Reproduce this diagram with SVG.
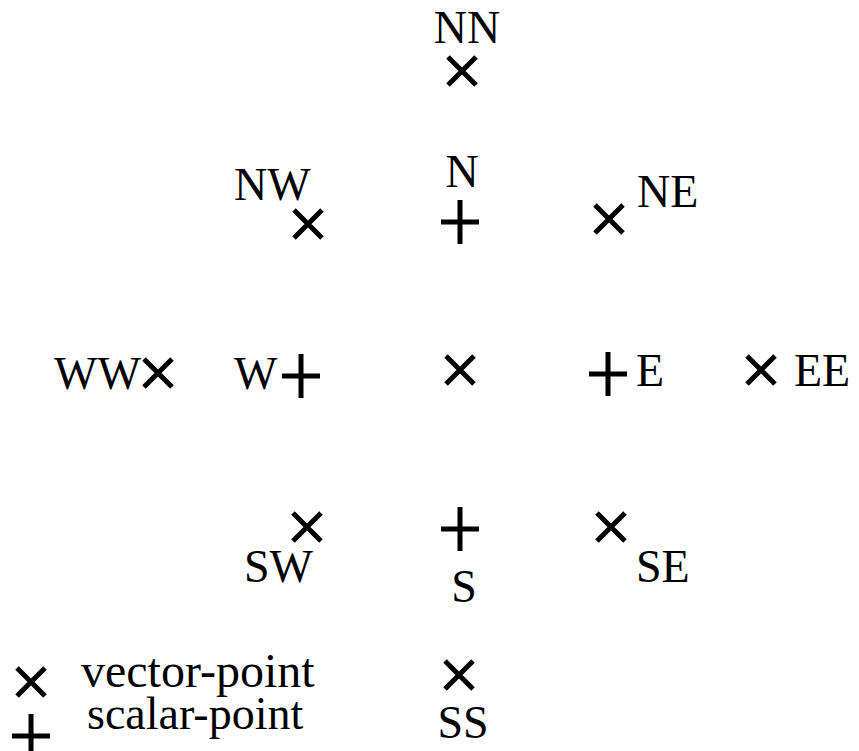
<svg xmlns="http://www.w3.org/2000/svg" xmlns:xlink="http://www.w3.org/1999/xlink" width="859" height="751" viewBox="0 0 859 751">
<style>
.lbl{font-family:"Liberation Serif","Times New Roman",serif;font-size:46px;fill:#000}
.mk{stroke:#000;stroke-width:5;fill:none}
</style>
<defs>
<path id="vx" class="mk" d="M-14,-14 L14,14 M-14,14 L14,-14"/>
<path id="sp" class="mk" d="M-19,0 L19,0 M0,-22 L0,22"/>
</defs>
<rect width="859" height="751" fill="#fff"/>
<g id="NN"><use xlink:href="#vx" href="#vx" x="462" y="71"/><text class="lbl" x="467" y="43" text-anchor="middle">NN</text></g>
<g id="NW"><use xlink:href="#vx" href="#vx" x="308" y="224"/><text class="lbl" x="234" y="200">NW</text></g>
<g id="N"><use xlink:href="#sp" href="#sp" x="460" y="222"/><text class="lbl" x="462" y="187" text-anchor="middle">N</text></g>
<g id="NE"><use xlink:href="#vx" href="#vx" x="609" y="219"/><text class="lbl" x="637" y="207">NE</text></g>
<g id="WW"><use xlink:href="#vx" href="#vx" x="158" y="373"/><text class="lbl" x="54" y="389">WW</text></g>
<g id="W"><use xlink:href="#sp" href="#sp" x="301" y="376"/><text class="lbl" x="234" y="389">W</text></g>
<g id="C"><use xlink:href="#vx" href="#vx" x="460" y="370"/></g>
<g id="E"><use xlink:href="#sp" href="#sp" x="608" y="374"/><text class="lbl" x="636" y="386">E</text></g>
<g id="EE"><use xlink:href="#vx" href="#vx" x="761" y="370"/><text class="lbl" x="794" y="386">EE</text></g>
<g id="SW"><use xlink:href="#vx" href="#vx" x="307" y="527"/><text class="lbl" x="244" y="582">SW</text></g>
<g id="S"><use xlink:href="#sp" href="#sp" x="460" y="529"/><text class="lbl" x="464" y="602" text-anchor="middle">S</text></g>
<g id="SE"><use xlink:href="#vx" href="#vx" x="611" y="527"/><text class="lbl" x="636" y="582">SE</text></g>
<g id="SS"><use xlink:href="#vx" href="#vx" x="459" y="675"/><text class="lbl" x="463" y="738" text-anchor="middle">SS</text></g>
<g id="legend-vector"><use xlink:href="#vx" href="#vx" x="31" y="682"/><text class="lbl" x="81" y="687" style="font-size:48px">vector-point</text></g>
<g id="legend-scalar"><use xlink:href="#sp" href="#sp" x="31" y="736"/><text class="lbl" x="87" y="729">scalar-point</text></g>
<g id="connectors"/>
</svg>
